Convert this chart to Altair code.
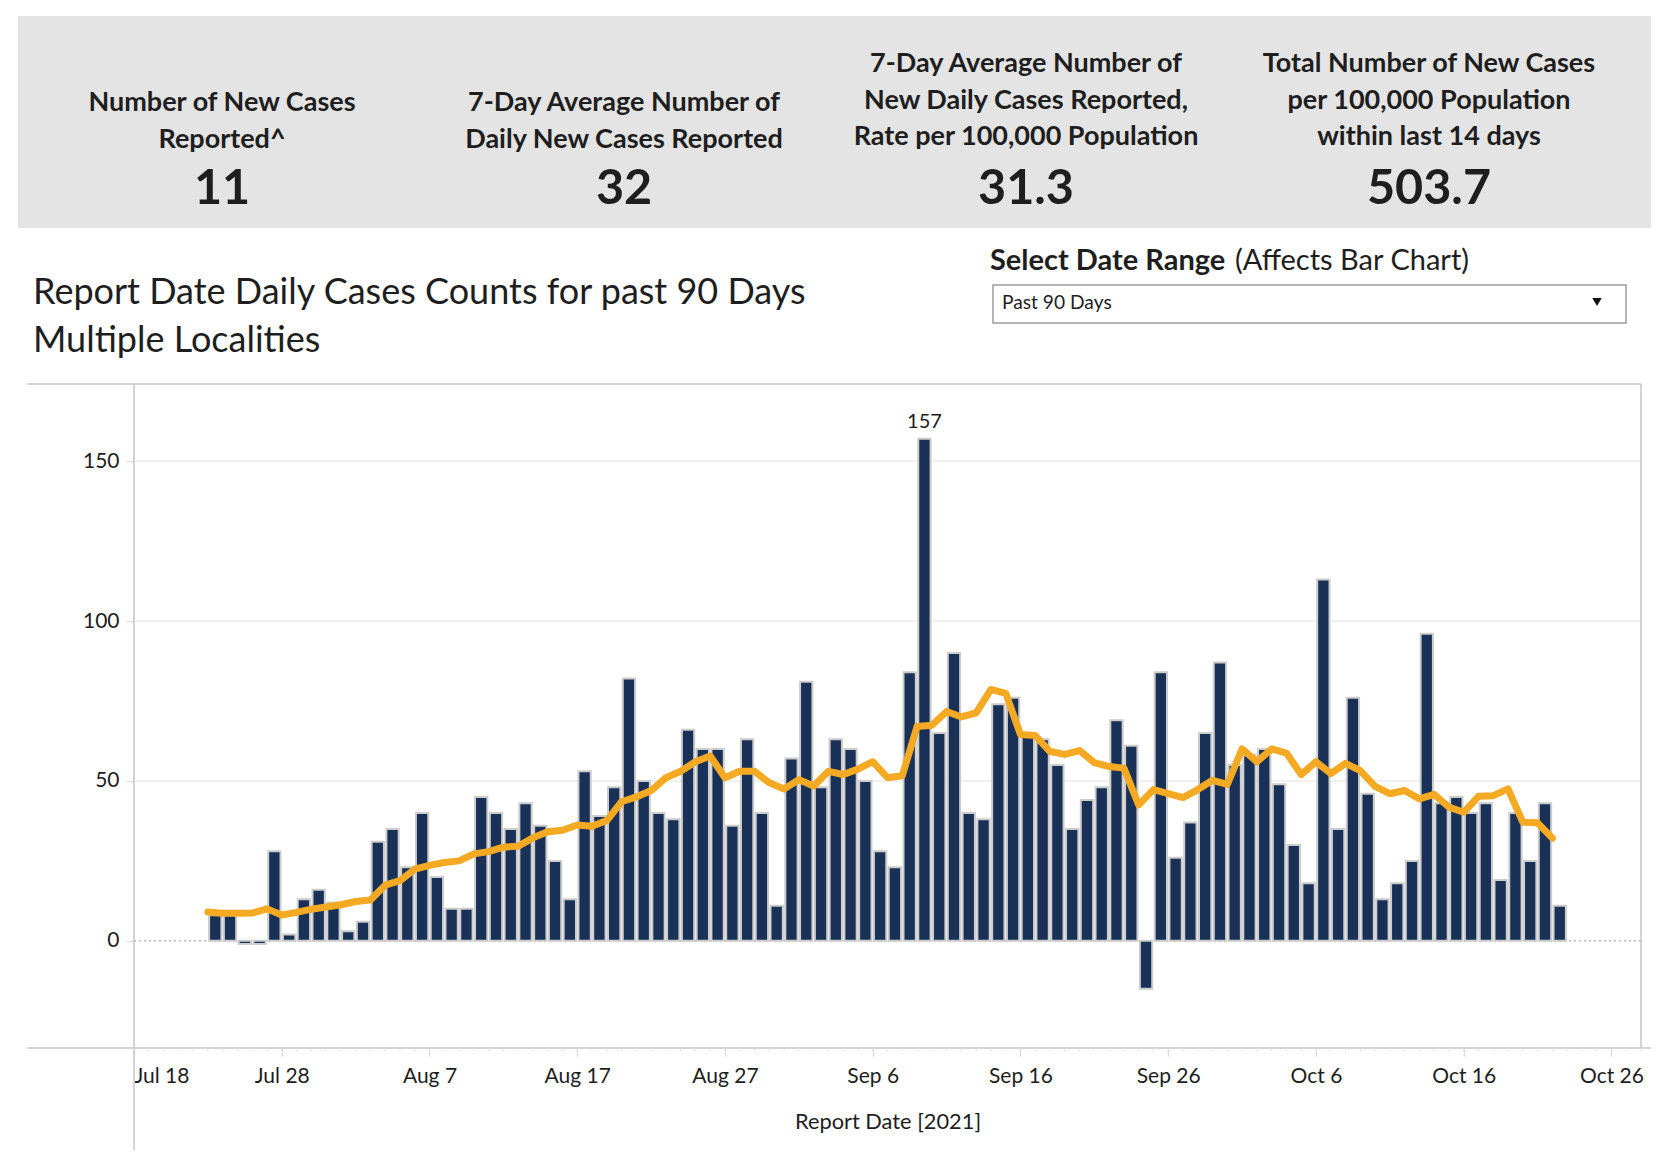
import altair as alt
import pandas as pd

# ---------------- data ----------------
start_date = "2021-07-23"
cases = [8, 8, -1, -1, 28, 2, 13, 16, 12,
         3, 6, 31, 35, 23, 40, 20, 10, 10, 45, 40, 35, 43, 36, 25, 13, 53, 39, 48, 82,
         50, 40, 38, 66, 60, 60, 36, 63, 40, 11, 57,
         81, 48, 63, 60, 50, 28, 23, 84, 157, 65, 90, 40, 38, 74, 76, 65, 63, 55, 35, 44, 48,
         69, 61, -15, 84, 26, 37, 65, 87, 55,
         58, 60, 49, 30, 18, 113, 35, 76, 46, 13, 18, 25, 96, 43, 45, 40, 43, 19, 40, 25, 43, 11]
avg7 = [9, 8.6, 8.6, 8.7, 10, 8.1, 8.9, 9.9, 10.6,
        11.3, 12.3, 12.8, 17.4, 18.8, 22.4, 23.6, 24.5, 25, 27.2, 27.9, 29.3, 29.6, 32.2, 34.1, 34.6,
        36.2, 35.8, 37.6, 43.5, 45, 47, 51, 53, 56, 57.8, 51, 53, 53, 49.4, 47.5,
        50.4, 48.4, 53, 52, 53.7, 56, 51, 51.6, 67, 67.4, 71.7, 70, 71.3, 78.6, 77.4, 64.5, 64.2,
        59.2, 58.3, 59.5, 55.7, 54.5, 54, 42.5, 47.3, 46, 44.8, 47.3, 50.2, 48.9,
        60, 56, 60, 58.7, 52, 56, 52.3, 55.5, 53.2, 48.3, 46, 47, 44.4, 45.8, 41.8, 40.2, 45.2,
        45.4, 47.5, 37.1, 36.9, 32.1]
grid_values = [50, 100, 150]
y_tick_values = [0, 50, 100, 150]
x_tick_start = "2021-07-18"
domain_start = "2021-07-18"
domain_end = "2021-10-28"

kpi_titles = [["Number of New Cases", "Reported^"],
              ["7-Day Average Number of", "Daily New Cases Reported"],
              ["7-Day Average Number of", "New Daily Cases Reported,", "Rate per 100,000 Population"],
              ["Total Number of New Cases", "per 100,000 Population", "within last 14 days"]]
kpi_values = ["11", "32", "31.3", "503.7"]
chart_title = ["Report Date Daily Cases Counts for past 90 Days", "Multiple Localities"]
select_label_bold = "Select Date Range"
select_label_rest = "(Affects Bar Chart)"
select_value = "Past 90 Days"
x_title = "Report Date [2021]"

# ---------------- frame ----------------
dates = pd.date_range(start_date, periods=len(cases), freq="D")
df = pd.DataFrame({"date": dates, "cases": cases, "avg": avg7})
df["start"] = df["date"] + pd.Timedelta(hours=2.0)
df["end"] = df["date"] + pd.Timedelta(hours=22.0)
df["mid"] = df["date"] + pd.Timedelta(hours=12)
peak = df.loc[[df["cases"].idxmax()]]

minor = pd.DataFrame({"d": pd.date_range(domain_start, domain_end, freq="D")})
grid_df = pd.DataFrame({"v": grid_values})


def dt(ts):
    ts = pd.Timestamp(ts)
    return alt.DateTime(year=ts.year, month=ts.month, date=ts.day)


x_ticks = [dt(t) for t in pd.date_range(x_tick_start, periods=11, freq="10D")]

W, H = 1507, 664
FONT = "Lato"
TXT = "#1e1e1e"
NAVY = "#1a3157"
ORANGE = "#f6aa24"
FRAME = "#c6c6c6"

xscale = alt.Scale(domain=[dt(domain_start), dt(domain_end)])
yscale = alt.Scale(domain=[-33.5, 174.1], nice=False, zero=False)

xaxis = alt.Axis(values=x_ticks, format="%b %-d", labelFont=FONT, labelFontSize=21,
                 labelColor=TXT, domain=False, ticks=True, tickColor="#dedede",
                 tickSize=8, tickWidth=1.5, labelPadding=9, grid=False,
                 title=x_title, titleFont=FONT, titleFontSize=21.8,
                 titleFontWeight="normal", titleColor=TXT, titleBaseline="middle",
                 titleY=73, titleX=W / 2)
yaxis = alt.Axis(values=y_tick_values, labelFont=FONT, labelFontSize=21, labelColor=TXT,
                 domain=False, tickColor="#e2e2e2", tickSize=8, tickWidth=1.5,
                 labelPadding=7, grid=False, title="")

one = alt.Data(values=[{"k": 1}])


def label(text, x, y, size, weight="normal", align="left", color=TXT, line_height=None, baseline="alphabetic"):
    kw = dict(text=text, align=align, baseline=baseline, fontSize=size, fontWeight=weight,
              font=FONT, color=color)
    if line_height is not None:
        kw["lineHeight"] = line_height
    return alt.Chart(one).mark_text(**kw).encode(x=alt.value(x), y=alt.value(y))


def hline(x1, x2, y, color=FRAME, width=1.5):
    return alt.Chart(one).mark_rule(color=color, strokeWidth=width).encode(
        x=alt.value(x1), x2=alt.value(x2), y=alt.value(y))


def vline(x, y1, y2, color=FRAME, width=1.5):
    return alt.Chart(one).mark_rule(color=color, strokeWidth=width).encode(
        x=alt.value(x), y=alt.value(y1), y2=alt.value(y2))


layers = []

# header band
layers.append(alt.Chart(one).mark_rect(color="#e4e4e4").encode(
    x=alt.value(-116), x2=alt.value(1518), y=alt.value(-368), y2=alt.value(-156)))

kpi_x = [88, 490, 892, 1295]
for xc, lines, val in zip(kpi_x, kpi_titles, kpi_values):
    first = -273 if len(lines) == 2 else -312
    layers.append(label(lines, xc, first, 27, weight="bold", align="center", line_height=36.7))
    layers.append(label(val, xc, -180, 48.5, weight="bold", align="center"))

# chart title
layers.append(label(chart_title, -101, -80, 36, line_height=48))

# selector
layers.append(label(select_label_bold, 856, -114, 29, weight="bold"))
layers.append(label(select_label_rest, 1101, -114, 29))
layers.append(alt.Chart(one).mark_rect(fill="white", stroke="#9c9c9c", strokeWidth=1.5).encode(
    x=alt.value(859), x2=alt.value(1492), y=alt.value(-99), y2=alt.value(-61)))
layers.append(label(select_value, 868, -75, 19.2))
layers.append(alt.Chart(one).mark_point(shape="triangle-down", filled=True, color="#111111",
                                        size=90, opacity=1).encode(
    x=alt.value(1463), y=alt.value(-82)))

# grid lines
layers.append(alt.Chart(grid_df).mark_rule(color="#ececec", strokeWidth=1.5).encode(
    y=alt.Y("v:Q", scale=yscale, axis=yaxis)))

# zero dotted line
layers.append(alt.Chart(one).mark_rule(color="#a8a8a8", strokeWidth=1.2, strokeDash=[2, 3]).encode(
    y=alt.datum(0, scale=yscale, axis=yaxis)))

# frame lines
layers.append(hline(-107, W, 0))
layers.append(vline(W, 0, H))
layers.append(hline(-107, 1518, H))
layers.append(vline(0, 0, 790))

# minor ticks
layers.append(alt.Chart(minor).mark_rule(color="#dedede", strokeWidth=1).encode(
    x=alt.X("d:T", scale=xscale, axis=xaxis), y=alt.value(H), y2=alt.value(H + 3)))

# bars
bars = alt.Chart(df).mark_rect(fill=NAVY, stroke="#cccccc", strokeWidth=2).encode(
    x=alt.X("start:T", scale=xscale, axis=xaxis),
    x2="end:T",
    y=alt.Y("cases:Q", scale=yscale, axis=yaxis),
    y2=alt.datum(0),
)
layers.append(bars)

# 7-day average line
layers.append(alt.Chart(df).mark_line(color=ORANGE, strokeWidth=7, strokeCap="round",
                                      strokeJoin="round").encode(
    x=alt.X("date:T", scale=xscale, axis=xaxis),
    y=alt.Y("avg:Q", scale=yscale, axis=yaxis)))

# peak label
layers.append(alt.Chart(peak).mark_text(font=FONT, fontSize=20, color=TXT, dy=-17,
                                        baseline="middle").encode(
    x=alt.X("mid:T", scale=xscale, axis=xaxis),
    y=alt.Y("cases:Q", scale=yscale, axis=yaxis),
    text=alt.Text("cases:Q")))

chart = alt.layer(*layers).properties(
    width=W, height=H,
    padding={"left": 126, "top": 376, "right": 10, "bottom": 102},
    autosize=alt.AutoSizeParams(type="none"),
    background="white",
).configure_view(stroke="transparent")

chart.save("out.html", embed_options={"renderer": "svg", "actions": False})
